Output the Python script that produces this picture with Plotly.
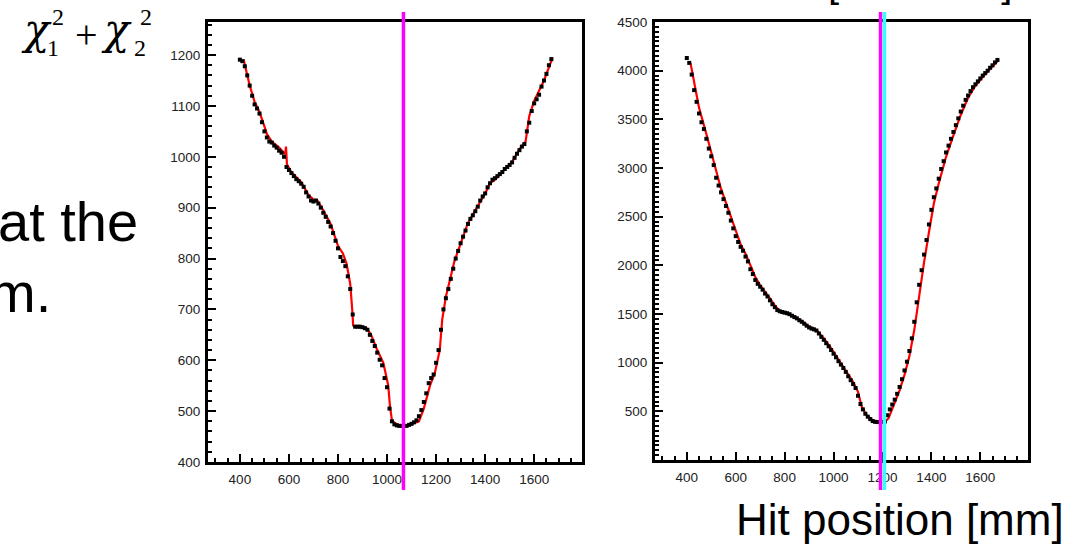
import plotly.graph_objects as go

# ---------------- data ----------------
pos_left = list(range(400, 1680, 10))
chi2_left = [1191, 1188, 1178, 1160, 1140, 1120, 1103, 1095, 1085, 1068,
             1050, 1038, 1030, 1028, 1022, 1018, 1012, 1008, 1000, 980,
             974, 968, 962, 956, 952, 947, 941, 930, 922, 914,
             912, 914, 908, 900, 890, 882, 872, 863, 850, 835,
             820, 803, 795, 785, 765, 740, 690, 666, 666, 666,
             665, 663, 660, 650, 638, 628, 615, 601, 590, 565,
             547, 505, 480, 474, 472, 471, 471, 471, 471, 473,
             475, 478, 482, 490, 502, 518, 535, 555, 565, 572,
             595, 620, 660, 700, 722, 740, 760, 780, 800, 815,
             830, 843, 855, 868, 878, 885, 893, 902, 914, 922,
             928, 940, 948, 955, 958, 962, 966, 970, 976, 980,
             984, 989, 998, 1006, 1013, 1020, 1025, 1050, 1067, 1090,
             1105, 1113, 1122, 1138, 1150, 1163, 1180, 1192]

fit_left_x = [415, 425, 440, 460, 480, 500, 510, 530, 560, 585,
              588, 592, 610, 650, 680, 700, 715, 740, 770, 800,
              820, 835, 850, 858, 862, 870, 915, 935, 960, 985,
              995, 1005, 1012, 1020, 1035, 1060, 1080, 1100, 1130, 1150,
              1175, 1195, 1215, 1225, 1240, 1275, 1300, 1330, 1360, 1400,
              1420, 1440, 1480, 1510, 1540, 1565, 1580, 1600, 1640, 1675]
fit_left_y = [1192, 1170, 1140, 1108, 1088, 1060, 1045, 1030, 1018, 1005,
              1020, 985, 970, 950, 925, 916, 915, 895, 868, 825,
              810, 790, 750, 700, 668, 666, 664, 650, 620, 595,
              570, 550, 510, 482, 475, 471, 471, 474, 480, 505,
              550, 575, 620, 680, 725, 795, 830, 870, 895, 928,
              948, 955, 975, 990, 1015, 1030, 1080, 1110, 1150, 1195]

pos_right = list(range(400, 1680, 10))
chi2_right = [4130, 4080, 3960, 3800, 3680, 3560, 3470, 3400, 3300, 3200,
              3120, 3030, 2900, 2820, 2750, 2680, 2610, 2540, 2460, 2380,
              2300, 2240, 2190, 2150, 2090, 2040, 1960, 1910, 1850, 1810,
              1780, 1750, 1710, 1680, 1640, 1600, 1570, 1540, 1528, 1520,
              1514, 1508, 1498, 1482, 1468, 1455, 1436, 1420, 1400, 1380,
              1362, 1350, 1342, 1330, 1300, 1265, 1235, 1200, 1168, 1130,
              1092, 1055, 1015, 980, 945, 905, 860, 820, 780, 740,
              660, 575, 520, 475, 445, 420, 400, 392, 390, 390,
              392, 395, 460, 520, 570, 620, 680, 750, 830, 920,
              1010, 1120, 1250, 1420, 1620, 1800, 1950, 2110, 2260, 2420,
              2570, 2700, 2790, 2890, 2990, 3070, 3160, 3230, 3300, 3370,
              3440, 3510, 3580, 3640, 3700, 3745, 3790, 3830, 3860, 3890,
              3920, 3950, 3975, 4000, 4030, 4055, 4085, 4110]

fit_right_x = [415, 430, 450, 480, 500, 520, 540, 560, 580, 600,
               620, 640, 660, 680, 700, 720, 740, 760, 780, 810,
               840, 870, 900, 930, 960, 990, 1020, 1050, 1080, 1100,
               1115, 1135, 1160, 1180, 1210, 1225, 1250, 1270, 1290, 1310,
               1330, 1350, 1370, 1390, 1410, 1430, 1460, 1490, 1520, 1550,
               1580, 1620, 1675]
fit_right_y = [4080, 3880, 3620, 3350, 3160, 2965, 2785, 2645, 2500, 2340,
               2215, 2120, 2000, 1880, 1795, 1730, 1660, 1585, 1534, 1511,
               1475, 1428, 1371, 1336, 1250, 1149, 1035, 925, 800, 700,
               548, 460, 410, 391, 392, 430, 595, 715, 875, 1065,
               1335, 1710, 2030, 2340, 2635, 2840, 3115, 3335, 3545, 3722,
               3845, 3962, 4110]

x_ticks = [400, 600, 800, 1000, 1200, 1400, 1600]
y_ticks_left = [400, 500, 600, 700, 800, 900, 1000, 1100, 1200]
y_ticks_right = [500, 1000, 1500, 2000, 2500, 3000, 3500, 4000, 4500]

min_left = 1067
min_right_a = 1192
min_right_b = 1208

# ---------------- figure ----------------
W, H = 1088, 544
def px(v):
    return v / W
def py(v):
    return 1 - v / H

fig = go.Figure()
fig.add_trace(go.Scatter(x=fit_left_x, y=fit_left_y, mode="lines",
                         line=dict(color="#ff0000", width=2.2), xaxis="x", yaxis="y", hoverinfo="skip"))
fig.add_trace(go.Scatter(x=pos_left, y=chi2_left, mode="markers",
                         marker=dict(symbol="square", size=4, color="black", line=dict(width=0)),
                         xaxis="x", yaxis="y"))
fig.add_trace(go.Scatter(x=fit_right_x, y=fit_right_y, mode="lines",
                         line=dict(color="#ff0000", width=2.2), xaxis="x2", yaxis="y2", hoverinfo="skip"))
fig.add_trace(go.Scatter(x=pos_right, y=chi2_right, mode="markers",
                         marker=dict(symbol="square", size=4, color="black", line=dict(width=0)),
                         xaxis="x2", yaxis="y2"))

tickfont = dict(family="Liberation Sans, Arial, sans-serif", size=13.5, color="#222")

def axis(domain, rng, tickvals, minor_dtick, anchor, standoff):
    return dict(domain=domain, range=rng, tickmode="array", tickvals=tickvals,
                ticks="inside", ticklen=8, tickwidth=2, tickcolor="black",
                showline=True, linecolor="black", linewidth=3, mirror=True,
                showgrid=False, zeroline=False, tickfont=tickfont, anchor=anchor,
                ticklabelstandoff=standoff, automargin=False,
                minor=dict(ticks="inside", ticklen=4, tickwidth=2, tickcolor="black",
                           dtick=minor_dtick, tick0=0, showgrid=False))

fig.update_layout(
    width=W, height=H, margin=dict(l=0, r=0, t=0, b=0, pad=0, autoexpand=False),
    paper_bgcolor="white", plot_bgcolor="white", showlegend=False,
    xaxis=axis([px(208), px(582)], [270, 1795], x_ticks, 50, "y", 3),
    yaxis=axis([py(462), py(22)], [400, 1265], y_ticks_left, 20, "x", 2),
    xaxis2=axis([px(655), px(1028)], [270, 1795], x_ticks, 50, "y2", 3),
    yaxis2=axis([py(460), py(22)], [0, 4500], y_ticks_right, 50, "x2", 2),
)

line_top, line_bot = py(12), py(490)
fig.add_shape(type="line", xref="x", yref="paper", x0=min_left, x1=min_left,
              y0=line_bot, y1=line_top, line=dict(color="#ff00ff", width=3.5), layer="above")
fig.add_shape(type="line", xref="x2", yref="paper", x0=min_right_a, x1=min_right_a,
              y0=line_bot, y1=line_top, line=dict(color="#ff00ff", width=3.5), layer="above")
fig.add_shape(type="line", xref="x2", yref="paper", x0=min_right_b, x1=min_right_b,
              y0=line_bot, y1=line_top, line=dict(color="#33ffff", width=3.5), layer="above")

big = dict(family="Liberation Sans, Arial, sans-serif", size=56, color="black")
serif = "Liberation Serif, Times New Roman, serif"

def ann(text, x, y, font, xanchor="center", yanchor="middle"):
    fig.add_annotation(text=text, x=px(x), y=py(y), xref="paper", yref="paper",
                       showarrow=False, font=font, xanchor=xanchor, yanchor=yanchor)

ann("at the", 140, 221, big, xanchor="right")
ann("m.", 53, 292, big, xanchor="right")
ann("Hit position [mm]", 900, 519, dict(family="Liberation Sans, Arial, sans-serif", size=44, color="black"))
ann("[minimum]", 920, 7, dict(family="Liberation Sans, Arial, sans-serif", size=40, color="black"),
    yanchor="bottom")

chi = dict(family="DejaVu Serif, serif", size=42, color="black")
small = dict(family=serif, size=24, color="black")
ann("<i>χ</i>", 36, 29, chi)
ann("1", 53, 48, small)
ann("2", 58, 17, small)
ann("+", 86, 34, dict(family=serif, size=40, color="black"))
ann("<i>χ</i>", 116, 29, chi)
ann("2", 140, 48, small)
ann("2", 146, 17, small)

fig.write_html("out.html")
